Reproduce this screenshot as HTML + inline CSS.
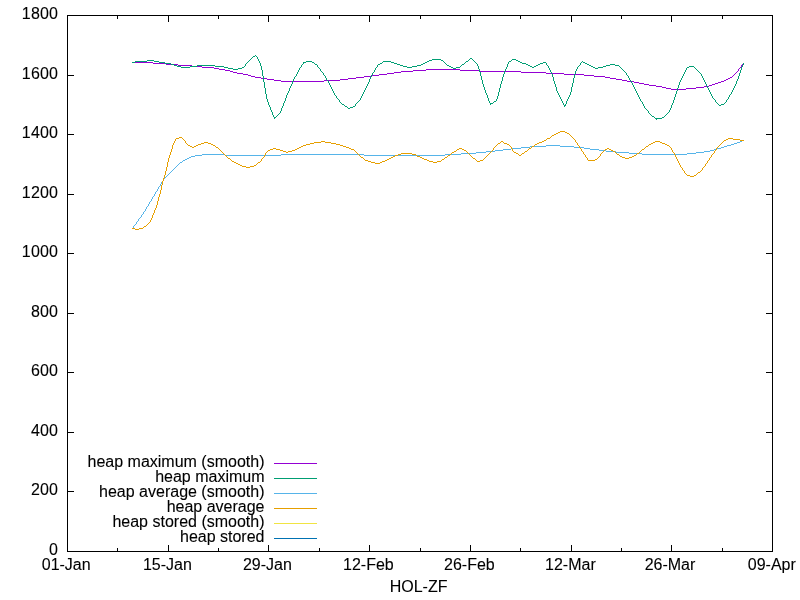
<!DOCTYPE html>
<html><head><meta charset="utf-8"><title>HOL-ZF</title>
<style>html,body{margin:0;padding:0;background:#fff;overflow:hidden;}svg{display:block;}text{font-family:"Liberation Sans",sans-serif;font-size:16px;fill:#000;stroke:#000;stroke-width:0.1px;}</style></head><body>
<svg width="800" height="600" viewBox="0 0 800 600">
<rect width="800" height="600" fill="#fff"/>
<g fill="#000" shape-rendering="crispEdges">
<rect x="67" y="15" width="706" height="1"/><rect x="67" y="551" width="706" height="1"/><rect x="67" y="15" width="1" height="537"/><rect x="772" y="15" width="1" height="537"/>
<rect x="68" y="551" width="6" height="1"/><rect x="766" y="551" width="6" height="1"/>
<rect x="68" y="491" width="6" height="1"/><rect x="766" y="491" width="6" height="1"/>
<rect x="68" y="432" width="6" height="1"/><rect x="766" y="432" width="6" height="1"/>
<rect x="68" y="372" width="6" height="1"/><rect x="766" y="372" width="6" height="1"/>
<rect x="68" y="313" width="6" height="1"/><rect x="766" y="313" width="6" height="1"/>
<rect x="68" y="253" width="6" height="1"/><rect x="766" y="253" width="6" height="1"/>
<rect x="68" y="194" width="6" height="1"/><rect x="766" y="194" width="6" height="1"/>
<rect x="68" y="134" width="6" height="1"/><rect x="766" y="134" width="6" height="1"/>
<rect x="68" y="75" width="6" height="1"/><rect x="766" y="75" width="6" height="1"/>
<rect x="68" y="15" width="6" height="1"/><rect x="766" y="15" width="6" height="1"/>
<rect x="67" y="545" width="1" height="6"/><rect x="67" y="16" width="1" height="6"/>
<rect x="117" y="548" width="1" height="3"/><rect x="117" y="16" width="1" height="3"/>
<rect x="168" y="545" width="1" height="6"/><rect x="168" y="16" width="1" height="6"/>
<rect x="218" y="548" width="1" height="3"/><rect x="218" y="16" width="1" height="3"/>
<rect x="268" y="545" width="1" height="6"/><rect x="268" y="16" width="1" height="6"/>
<rect x="319" y="548" width="1" height="3"/><rect x="319" y="16" width="1" height="3"/>
<rect x="369" y="545" width="1" height="6"/><rect x="369" y="16" width="1" height="6"/>
<rect x="420" y="548" width="1" height="3"/><rect x="420" y="16" width="1" height="3"/>
<rect x="470" y="545" width="1" height="6"/><rect x="470" y="16" width="1" height="6"/>
<rect x="520" y="548" width="1" height="3"/><rect x="520" y="16" width="1" height="3"/>
<rect x="571" y="545" width="1" height="6"/><rect x="571" y="16" width="1" height="6"/>
<rect x="621" y="548" width="1" height="3"/><rect x="621" y="16" width="1" height="3"/>
<rect x="671" y="545" width="1" height="6"/><rect x="671" y="16" width="1" height="6"/>
<rect x="722" y="548" width="1" height="3"/><rect x="722" y="16" width="1" height="3"/>
<rect x="772" y="545" width="1" height="6"/><rect x="772" y="16" width="1" height="6"/>
</g>
<text x="58.2" y="555.0" text-anchor="end" letter-spacing="0.2">0</text>
<text x="58.2" y="495.0" text-anchor="end" letter-spacing="0.2">200</text>
<text x="58.2" y="436.0" text-anchor="end" letter-spacing="0.2">400</text>
<text x="58.2" y="376.0" text-anchor="end" letter-spacing="0.2">600</text>
<text x="58.2" y="317.0" text-anchor="end" letter-spacing="0.2">800</text>
<text x="58.2" y="257.0" text-anchor="end" letter-spacing="0.2">1000</text>
<text x="58.2" y="198.0" text-anchor="end" letter-spacing="0.2">1200</text>
<text x="58.2" y="138.0" text-anchor="end" letter-spacing="0.2">1400</text>
<text x="58.2" y="79.0" text-anchor="end" letter-spacing="0.2">1600</text>
<text x="58.2" y="19.0" text-anchor="end" letter-spacing="0.2">1800</text>
<text x="66.2" y="570" text-anchor="middle">01-Jan</text>
<text x="167.4" y="570" text-anchor="middle">15-Jan</text>
<text x="267.4" y="570" text-anchor="middle">29-Jan</text>
<text x="368.4" y="570" text-anchor="middle">12-Feb</text>
<text x="469.4" y="570" text-anchor="middle">26-Feb</text>
<text x="570.4" y="570" text-anchor="middle">12-Mar</text>
<text x="670.0" y="570" text-anchor="middle">26-Mar</text>
<text x="771.8" y="570" text-anchor="middle">09-Apr</text>
<text x="418.6" y="592" text-anchor="middle">HOL-ZF</text>
<text x="264.5" y="467.0" text-anchor="end">heap maximum (smooth)</text>
<path d="M274 463.5H317" stroke="#9400d3" stroke-width="1" fill="none" shape-rendering="crispEdges"/>
<text x="264.5" y="482.0" text-anchor="end">heap maximum</text>
<path d="M274 478.5H317" stroke="#009e73" stroke-width="1" fill="none" shape-rendering="crispEdges"/>
<text x="264.5" y="497.0" text-anchor="end">heap average (smooth)</text>
<path d="M274 493.5H317" stroke="#56b4e9" stroke-width="1" fill="none" shape-rendering="crispEdges"/>
<text x="264.5" y="512.0" text-anchor="end">heap average</text>
<path d="M274 508.5H317" stroke="#e69f00" stroke-width="1" fill="none" shape-rendering="crispEdges"/>
<text x="264.5" y="527.0" text-anchor="end">heap stored (smooth)</text>
<path d="M274 523.5H317" stroke="#f0e442" stroke-width="1" fill="none" shape-rendering="crispEdges"/>
<text x="264.5" y="542.0" text-anchor="end">heap stored</text>
<path d="M274 538.5H317" stroke="#0072b2" stroke-width="1" fill="none" shape-rendering="crispEdges"/>
<path d="M132 62.5h21M153 63.5h13M166 64.5h12M178 65.5h14M192 66.5h10M202 67.5h12M214 68.5h5M219 69.5h6M426 69.5h34M225 70.5h5M413 70.5h13M460 70.5h20M230 71.5h3M401 71.5h12M480 71.5h41M233 72.5h4M394 72.5h7M521 72.5h25M237 73.5h6M387 73.5h7M546 73.5h18M243 74.5h5M379 74.5h8M564 74.5h20M248 75.5h3M371 75.5h8M584 75.5h10M251 76.5h4M364 76.5h7M594 76.5h11M255 77.5h6M356 77.5h8M605 77.5h5M730 77.5h2M261 78.5h6M348 78.5h8M610 78.5h6M728 78.5h2M267 79.5h7M340 79.5h8M616 79.5h6M726 79.5h2M274 80.5h7M324 80.5h16M622 80.5h5M724 80.5h2M281 81.5h43M627 81.5h7M721 81.5h3M634 82.5h5M718 82.5h3M639 83.5h5M715 83.5h3M644 84.5h5M712 84.5h3M649 85.5h7M709 85.5h3M656 86.5h6M704 86.5h5M662 87.5h4M696 87.5h8M666 88.5h5M686 88.5h10M671 89.5h15M732.5 76v1M733.5 75v1M734.5 74v1M735.5 73v1M736.5 72v1M737.5 71v1M738.5 69v2M739.5 68v1M740.5 67v1M741.5 65v2M742.5 64v1M743.5 63v1" stroke="#9400d3" stroke-width="1" fill="none" shape-rendering="crispEdges"/>
<path d="M253 56.5h2M470 58.5h2M432 59.5h9M512 59.5h4M147 60.5h7M429 60.5h3M441 60.5h2M516 60.5h2M135 61.5h12M154 61.5h5M306 61.5h6M383 61.5h8M427 61.5h2M466 61.5h2M509 61.5h2M518 61.5h2M132 62.5h3M159 62.5h6M303 62.5h3M312 62.5h2M391 62.5h3M425 62.5h2M520 62.5h2M543 62.5h3M583 62.5h2M165 63.5h6M380 63.5h2M394 63.5h3M423 63.5h2M522 63.5h4M540 63.5h3M585 63.5h2M171 64.5h3M315 64.5h2M378 64.5h2M397 64.5h3M421 64.5h2M462 64.5h2M526 64.5h2M538 64.5h2M587 64.5h2M610 64.5h5M174 65.5h3M197 65.5h18M400 65.5h3M417 65.5h4M447 65.5h2M528 65.5h2M536 65.5h2M589 65.5h2M606 65.5h4M615 65.5h4M177 66.5h4M190 66.5h7M215 66.5h9M403 66.5h4M412 66.5h5M449 66.5h2M530 66.5h2M534 66.5h2M591 66.5h2M603 66.5h3M689 66.5h5M181 67.5h9M224 67.5h4M242 67.5h2M407 67.5h5M451 67.5h2M456 67.5h4M532 67.5h2M593 67.5h2M598 67.5h5M687 67.5h2M228 68.5h5M238 68.5h4M453 68.5h3M595 68.5h3M233 69.5h5M494 101.5h2M490 103.5h3M342 104.5h2M721 104.5h3M564 105.5h2M719 105.5h2M345 106.5h2M353 106.5h2M350 107.5h3M348 108.5h2M652 116.5h2M274 117.5h2M662 117.5h2M655 118.5h7M244.5 66v1M245.5 64v2M246.5 63v1M247.5 62v1M248.5 61v1M249.5 60v1M250.5 59v1M251.5 58v1M252.5 57v1M255.5 55v1M256.5 56v1M257.5 57v2M258.5 59v2M259.5 61v2M260.5 63v3M261.5 66v4M262.5 70v6M263.5 76v6M264.5 82v6M265.5 88v6M266.5 94v5M267.5 99v3M268.5 102v3M269.5 105v2M270.5 107v3M271.5 110v2M272.5 112v3M273.5 115v2M274.5 118v1M276.5 116v1M277.5 115v1M278.5 114v1M279.5 113v1M280.5 111v2M281.5 108v3M282.5 106v2M283.5 103v3M284.5 101v2M285.5 98v3M286.5 95v3M287.5 93v2M288.5 91v2M289.5 88v3M290.5 86v2M291.5 84v2M292.5 81v3M293.5 79v2M294.5 77v2M295.5 76v1M296.5 74v2M297.5 72v2M298.5 70v2M299.5 68v2M300.5 67v1M301.5 65v2M302.5 64v1M303.5 63v1M314.5 63v1M317.5 65v2M318.5 67v1M319.5 68v1M320.5 69v2M321.5 71v1M322.5 72v1M323.5 73v2M324.5 75v1M325.5 76v2M326.5 78v2M327.5 80v1M328.5 81v2M329.5 83v2M330.5 85v2M331.5 87v2M332.5 89v2M333.5 91v2M334.5 93v2M335.5 95v1M336.5 96v2M337.5 98v1M338.5 99v1M339.5 100v2M340.5 102v1M341.5 103v1M344.5 105v1M347.5 107v1M355.5 104v2M356.5 103v1M357.5 102v1M358.5 101v1M359.5 100v1M360.5 98v2M361.5 96v2M362.5 94v2M363.5 92v2M364.5 90v2M365.5 88v2M366.5 86v2M367.5 84v2M368.5 82v2M369.5 79v3M370.5 77v2M371.5 75v2M372.5 73v2M373.5 72v1M374.5 70v2M375.5 68v2M376.5 67v1M377.5 65v2M382.5 62v1M443.5 61v1M444.5 62v1M445.5 63v1M446.5 64v1M460.5 66v1M461.5 65v1M464.5 63v1M465.5 62v1M468.5 60v1M469.5 59v1M472.5 59v1M473.5 60v1M474.5 61v1M475.5 62v1M476.5 63v1M477.5 64v2M478.5 66v3M479.5 69v3M480.5 72v4M481.5 76v4M482.5 80v4M483.5 84v3M484.5 87v3M485.5 90v3M486.5 93v2M487.5 95v3M488.5 98v3M489.5 101v2M490.5 104v1M493.5 102v1M496.5 99v2M497.5 96v3M498.5 92v4M499.5 88v4M500.5 84v4M501.5 81v3M502.5 77v4M503.5 74v3M504.5 71v3M505.5 69v2M506.5 67v2M507.5 64v3M508.5 62v2M511.5 60v1M546.5 63v2M547.5 65v1M548.5 66v2M549.5 68v2M550.5 70v2M551.5 72v2M552.5 74v3M553.5 77v4M554.5 81v3M555.5 84v3M556.5 87v4M557.5 91v2M558.5 93v2M559.5 95v2M560.5 97v2M561.5 99v2M562.5 101v2M563.5 103v2M564.5 106v1M565.5 104v1M566.5 101v3M567.5 99v2M568.5 97v2M569.5 95v2M570.5 92v3M571.5 87v5M572.5 83v4M573.5 78v5M574.5 74v4M575.5 71v3M576.5 69v2M577.5 67v2M578.5 66v1M579.5 65v1M580.5 63v2M581.5 62v1M582.5 61v1M619.5 66v1M620.5 67v1M621.5 68v1M622.5 69v1M623.5 70v1M624.5 71v1M625.5 72v1M626.5 73v2M627.5 75v1M628.5 76v2M629.5 78v2M630.5 80v1M631.5 81v2M632.5 83v2M633.5 85v2M634.5 87v2M635.5 89v2M636.5 91v2M637.5 93v2M638.5 95v2M639.5 97v2M640.5 99v2M641.5 101v1M642.5 102v2M643.5 104v2M644.5 106v2M645.5 108v1M646.5 109v1M647.5 110v1M648.5 111v2M649.5 113v1M650.5 114v1M651.5 115v1M654.5 117v1M656.5 119v1M664.5 116v1M665.5 115v1M666.5 114v1M667.5 113v1M668.5 112v1M669.5 110v2M670.5 108v2M671.5 105v3M672.5 103v2M673.5 100v3M674.5 97v3M675.5 94v3M676.5 91v3M677.5 88v3M678.5 85v3M679.5 82v3M680.5 80v2M681.5 78v2M682.5 76v2M683.5 74v2M684.5 72v2M685.5 70v2M686.5 68v2M694.5 67v1M695.5 68v1M696.5 69v1M697.5 70v1M698.5 71v1M699.5 72v1M700.5 73v1M701.5 74v2M702.5 76v2M703.5 78v2M704.5 80v2M705.5 82v2M706.5 84v2M707.5 86v2M708.5 88v2M709.5 90v2M710.5 92v2M711.5 94v2M712.5 96v2M713.5 98v1M714.5 99v1M715.5 100v2M716.5 102v1M717.5 103v1M718.5 104v1M724.5 103v1M725.5 102v1M726.5 100v2M727.5 99v1M728.5 97v2M729.5 95v2M730.5 94v1M731.5 92v2M732.5 90v2M733.5 88v2M734.5 86v2M735.5 84v2M736.5 81v3M737.5 79v2M738.5 76v3M739.5 73v3M740.5 70v3M741.5 67v3M742.5 65v2M743.5 63v2" stroke="#009e73" stroke-width="1" fill="none" shape-rendering="crispEdges"/>
<path d="M742 140.5h2M740 141.5h2M737 142.5h3M734 143.5h3M731 144.5h3M546 145.5h14M727 145.5h4M530 146.5h16M560 146.5h14M724 146.5h3M521 147.5h9M574 147.5h10M721 147.5h3M511 148.5h10M584 148.5h6M717 148.5h4M503 149.5h8M590 149.5h9M714 149.5h3M495 150.5h8M599 150.5h7M710 150.5h4M486 151.5h9M606 151.5h10M704 151.5h6M476 152.5h10M616 152.5h13M696 152.5h8M461 153.5h15M629 153.5h13M687 153.5h9M202 154.5h23M281 154.5h83M445 154.5h16M642 154.5h45M195 155.5h7M225 155.5h56M364 155.5h81M191 156.5h4M189 157.5h2M187 158.5h2M185 159.5h2M183 160.5h2M180 162.5h2M132.5 228v1M133.5 226v2M134.5 225v1M135.5 224v1M136.5 222v2M137.5 221v1M138.5 219v2M139.5 218v1M140.5 217v1M141.5 215v2M142.5 214v1M143.5 212v2M144.5 211v1M145.5 209v2M146.5 207v2M147.5 206v1M148.5 204v2M149.5 202v2M150.5 201v1M151.5 199v2M152.5 197v2M153.5 196v1M154.5 194v2M155.5 192v2M156.5 191v1M157.5 189v2M158.5 187v2M159.5 186v1M160.5 184v2M161.5 182v2M162.5 181v1M163.5 179v2M164.5 178v1M165.5 177v1M166.5 176v1M167.5 175v1M168.5 174v1M169.5 173v1M170.5 172v1M171.5 171v1M172.5 170v1M173.5 169v1M174.5 168v1M175.5 167v1M176.5 166v1M177.5 165v1M178.5 164v1M179.5 163v1M182.5 161v1" stroke="#56b4e9" stroke-width="1" fill="none" shape-rendering="crispEdges"/>
<path d="M560 131.5h5M558 132.5h2M565 132.5h2M556 133.5h2M567 133.5h2M554 134.5h2M552 135.5h2M179 137.5h3M176 138.5h3M547 138.5h3M728 138.5h5M726 139.5h2M733 139.5h7M544 140.5h2M724 140.5h2M740 140.5h4M321 141.5h4M501 141.5h2M542 141.5h2M655 141.5h5M204 142.5h4M314 142.5h7M325 142.5h6M539 142.5h3M653 142.5h2M660 142.5h2M201 143.5h3M208 143.5h3M310 143.5h4M331 143.5h5M498 143.5h2M504 143.5h3M537 143.5h2M651 143.5h2M662 143.5h3M198 144.5h3M211 144.5h2M306 144.5h4M336 144.5h4M507 144.5h2M535 144.5h2M649 144.5h2M665 144.5h2M188 145.5h2M196 145.5h2M213 145.5h2M303 145.5h3M340 145.5h3M667 145.5h2M190 146.5h2M194 146.5h2M301 146.5h2M343 146.5h3M532 146.5h2M646 146.5h2M192 147.5h2M216 147.5h2M299 147.5h2M346 147.5h3M273 148.5h3M297 148.5h2M349 148.5h2M459 148.5h3M529 148.5h2M607 148.5h2M270 149.5h3M276 149.5h4M295 149.5h2M351 149.5h3M457 149.5h2M462 149.5h2M605 149.5h2M609 149.5h2M642 149.5h2M268 150.5h2M280 150.5h3M292 150.5h3M464 150.5h2M611 150.5h2M283 151.5h3M288 151.5h4M454 151.5h2M525 151.5h2M613 151.5h2M286 152.5h2M452 152.5h2M514 152.5h2M401 153.5h11M516 153.5h2M522 153.5h2M637 153.5h2M398 154.5h3M412 154.5h4M617 154.5h2M395 155.5h3M448 155.5h2M519 155.5h2M634 155.5h2M393 156.5h2M417 156.5h3M620 156.5h2M632 156.5h2M361 157.5h2M391 157.5h2M420 157.5h2M445 157.5h2M622 157.5h3M629 157.5h3M228 158.5h2M389 158.5h2M422 158.5h2M473 158.5h2M625 158.5h4M387 159.5h2M424 159.5h3M442 159.5h2M595 159.5h2M365 160.5h3M385 160.5h2M427 160.5h2M480 160.5h3M588 160.5h7M232 161.5h2M368 161.5h3M382 161.5h3M429 161.5h4M437 161.5h4M477 161.5h3M234 162.5h2M258 162.5h2M371 162.5h4M380 162.5h2M433 162.5h4M236 163.5h2M375 163.5h5M238 164.5h2M240 165.5h2M254 165.5h2M242 166.5h4M250 166.5h4M246 167.5h4M698 172.5h2M687 175.5h3M694 175.5h2M690 176.5h4M144 226.5h2M132 228.5h3M139 228.5h4M135 229.5h4M143.5 227v1M146.5 225v1M147.5 224v1M148.5 223v1M149.5 222v1M150.5 220v2M151.5 218v2M152.5 215v3M153.5 213v2M154.5 210v3M155.5 208v2M156.5 205v3M157.5 201v4M158.5 197v4M159.5 194v3M160.5 190v4M161.5 185v5M162.5 181v4M163.5 178v3M164.5 175v3M165.5 171v4M166.5 167v4M167.5 162v5M168.5 158v4M169.5 155v3M170.5 152v3M171.5 149v3M172.5 145v4M173.5 143v2M174.5 141v2M175.5 139v2M182.5 138v1M183.5 139v1M184.5 140v1M185.5 141v2M186.5 143v1M187.5 144v1M215.5 146v1M218.5 148v1M219.5 149v1M220.5 150v1M221.5 151v1M222.5 152v1M223.5 153v1M224.5 154v1M225.5 155v1M226.5 156v1M227.5 157v1M230.5 159v1M231.5 160v1M256.5 164v1M257.5 163v1M260.5 161v1M261.5 159v2M262.5 158v1M263.5 157v1M264.5 155v2M265.5 153v2M266.5 152v1M267.5 151v1M354.5 150v1M355.5 151v1M356.5 152v1M357.5 153v1M358.5 154v1M359.5 155v1M360.5 156v1M363.5 158v1M364.5 159v1M416.5 155v1M441.5 160v1M444.5 158v1M447.5 156v1M450.5 154v1M451.5 153v1M456.5 150v1M466.5 151v1M467.5 152v1M468.5 153v1M469.5 154v1M470.5 155v1M471.5 156v1M472.5 157v1M475.5 159v1M476.5 160v1M483.5 159v1M484.5 158v1M485.5 157v1M486.5 156v1M487.5 155v1M488.5 154v1M489.5 153v1M490.5 152v1M491.5 151v1M492.5 150v1M493.5 148v2M494.5 147v1M495.5 146v1M496.5 145v1M497.5 144v1M500.5 142v1M503.5 142v1M509.5 145v1M510.5 146v1M511.5 147v2M512.5 149v2M513.5 151v1M518.5 154v1M521.5 154v1M524.5 152v1M527.5 150v1M528.5 149v1M531.5 147v1M534.5 145v1M546.5 139v1M550.5 137v1M551.5 136v1M569.5 134v1M570.5 135v1M571.5 136v1M572.5 137v1M573.5 138v1M574.5 139v1M575.5 140v2M576.5 142v1M577.5 143v2M578.5 145v1M579.5 146v2M580.5 148v1M581.5 149v2M582.5 151v1M583.5 152v2M584.5 154v1M585.5 155v2M586.5 157v1M587.5 158v2M597.5 158v1M598.5 157v1M599.5 156v1M600.5 154v2M601.5 153v1M602.5 152v1M603.5 151v1M604.5 150v1M615.5 152v1M616.5 153v1M619.5 155v1M636.5 154v1M639.5 152v1M640.5 151v1M641.5 150v1M644.5 148v1M645.5 147v1M648.5 145v1M669.5 146v1M670.5 147v1M671.5 148v2M672.5 150v2M673.5 152v1M674.5 153v2M675.5 155v2M676.5 157v2M677.5 159v2M678.5 161v2M679.5 163v2M680.5 165v2M681.5 167v1M682.5 168v2M683.5 170v1M684.5 171v2M685.5 173v1M686.5 174v1M696.5 174v1M697.5 173v1M700.5 171v1M701.5 170v1M702.5 168v2M703.5 167v1M704.5 166v1M705.5 164v2M706.5 163v1M707.5 161v2M708.5 160v1M709.5 158v2M710.5 157v1M711.5 155v2M712.5 154v1M713.5 153v1M714.5 151v2M715.5 150v1M716.5 148v2M717.5 147v1M718.5 146v1M719.5 145v1M720.5 144v1M721.5 143v1M722.5 142v1M723.5 141v1" stroke="#e69f00" stroke-width="1" fill="none" shape-rendering="crispEdges"/>
</svg>
</body></html>
